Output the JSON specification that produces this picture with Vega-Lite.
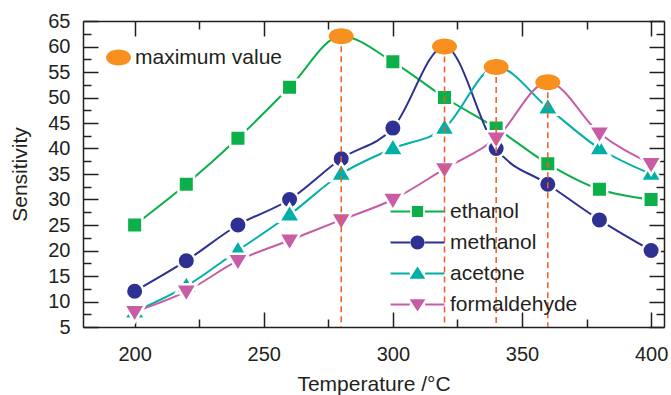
{
  "$schema": "https://vega.github.io/schema/vega-lite/v6.json",
  "width": 581,
  "height": 306,
  "autosize": "none",
  "padding": {"left": 83, "top": 21, "right": 7, "bottom": 68},
  "background": "white",
  "config": {
    "font": "Liberation Sans",
    "view": {"stroke": null},
    "axis": {
      "grid": false,
      "domainColor": "#231f20",
      "domainWidth": 1.5,
      "tickColor": "#231f20",
      "tickWidth": 1.5,
      "labelFontSize": 20,
      "labelColor": "#231f20",
      "titleFontSize": 21,
      "titleFontWeight": "normal",
      "titleColor": "#231f20",
      "labelOverlap": false,
      "labelFlush": false
    },
    "legend": {"labelColor": "#231f20", "labelFont": "Liberation Sans"}
  },
  "datasets": {
    "main": [
      {"T": 200, "v": 25, "series": "ethanol"},
      {"T": 220, "v": 33, "series": "ethanol"},
      {"T": 240, "v": 42, "series": "ethanol"},
      {"T": 260, "v": 52, "series": "ethanol"},
      {"T": 280, "v": 62, "series": "ethanol"},
      {"T": 300, "v": 57, "series": "ethanol"},
      {"T": 320, "v": 50, "series": "ethanol"},
      {"T": 340, "v": 44, "series": "ethanol"},
      {"T": 360, "v": 37, "series": "ethanol"},
      {"T": 380, "v": 32, "series": "ethanol"},
      {"T": 400, "v": 30, "series": "ethanol"},
      {"T": 200, "v": 12, "series": "methanol"},
      {"T": 220, "v": 18, "series": "methanol"},
      {"T": 240, "v": 25, "series": "methanol"},
      {"T": 260, "v": 30, "series": "methanol"},
      {"T": 280, "v": 38, "series": "methanol"},
      {"T": 300, "v": 44, "series": "methanol"},
      {"T": 320, "v": 60, "series": "methanol"},
      {"T": 340, "v": 40, "series": "methanol"},
      {"T": 360, "v": 33, "series": "methanol"},
      {"T": 380, "v": 26, "series": "methanol"},
      {"T": 400, "v": 20, "series": "methanol"},
      {"T": 200, "v": 8, "series": "acetone"},
      {"T": 220, "v": 13, "series": "acetone"},
      {"T": 240, "v": 20, "series": "acetone"},
      {"T": 260, "v": 27, "series": "acetone"},
      {"T": 280, "v": 35, "series": "acetone"},
      {"T": 300, "v": 40, "series": "acetone"},
      {"T": 320, "v": 44, "series": "acetone"},
      {"T": 340, "v": 56, "series": "acetone"},
      {"T": 360, "v": 48, "series": "acetone"},
      {"T": 380, "v": 40, "series": "acetone"},
      {"T": 400, "v": 35, "series": "acetone"},
      {"T": 200, "v": 8, "series": "formaldehyde"},
      {"T": 220, "v": 12, "series": "formaldehyde"},
      {"T": 240, "v": 18, "series": "formaldehyde"},
      {"T": 260, "v": 22, "series": "formaldehyde"},
      {"T": 280, "v": 26, "series": "formaldehyde"},
      {"T": 300, "v": 30, "series": "formaldehyde"},
      {"T": 320, "v": 36, "series": "formaldehyde"},
      {"T": 340, "v": 42, "series": "formaldehyde"},
      {"T": 360, "v": 53, "series": "formaldehyde"},
      {"T": 380, "v": 43, "series": "formaldehyde"},
      {"T": 400, "v": 37, "series": "formaldehyde"}
    ],
    "maxima": [
      {"T": 280, "v": 62, "series": "ethanol", "label": "maximum value"},
      {"T": 320, "v": 60, "series": "methanol", "label": "maximum value"},
      {"T": 340, "v": 56, "series": "acetone", "label": "maximum value"},
      {"T": 360, "v": 53, "series": "formaldehyde", "label": "maximum value"}
    ]
  },
  "layer": [
    {
      "data": {"name": "main"},
      "mark": {"type": "line", "interpolate": "monotone", "strokeWidth": 2},
      "encoding": {
        "x": {
          "field": "T", "type": "quantitative",
          "scale": {"domain": [180, 405], "nice": false, "zero": false},
          "axis": {
            "orient": "bottom",
            "values": [200, 225, 250, 275, 300, 325, 350, 375, 400],
            "labelExpr": "datum.value % 50 === 0 ? datum.label : ''",
            "tickSize": {"condition": {"test": "datum.value % 50 === 0", "value": -15}, "value": -8},
            "labelPadding": 32,
            "title": "Temperature /°C",
            "titleBaseline": "alphabetic",
            "titleY": 63
          }
        },
        "y": {
          "field": "v", "type": "quantitative",
          "scale": {"domain": [5, 65], "nice": false, "zero": false},
          "axis": {
            "orient": "left",
            "values": [5, 7.5, 10, 12.5, 15, 17.5, 20, 22.5, 25, 27.5, 30, 32.5, 35, 37.5, 40, 42.5, 45, 47.5, 50, 52.5, 55, 57.5, 60, 62.5, 65],
            "labelExpr": "datum.value % 5 === 0 ? datum.label : ''",
            "tickSize": {"condition": {"test": "datum.value % 5 === 0", "value": -15}, "value": -8},
            "labelPadding": 28,
            "title": "Sensitivity",
            "titleBaseline": "alphabetic",
            "titleX": -57,
            "titleY": 153
          }
        },
        "color": {
          "field": "series", "type": "nominal",
          "scale": {"domain": ["ethanol", "methanol", "acetone", "formaldehyde"], "range": ["#0cb04a", "#2e3192", "#00b0a6", "#c85da5"]},
          "legend": null
        }
      }
    },
    {
      "data": {"name": "main"},
      "mark": {"type": "point", "filled": true, "opacity": 1, "size": 196, "stroke": "white", "strokeWidth": 2.5, "strokeOpacity": 1},
      "encoding": {
        "x": {
          "field": "T", "type": "quantitative",
          "scale": {"domain": [180, 405], "nice": false, "zero": false},
          "axis": {
            "orient": "top",
            "values": [200, 225, 250, 275, 300, 325, 350, 375, 400],
            "labels": false,
            "tickSize": {"condition": {"test": "datum.value % 50 === 0", "value": -15}, "value": -8},
            "title": null
          }
        },
        "y": {
          "field": "v", "type": "quantitative",
          "scale": {"domain": [5, 65], "nice": false, "zero": false},
          "axis": {
            "orient": "right",
            "values": [5, 7.5, 10, 12.5, 15, 17.5, 20, 22.5, 25, 27.5, 30, 32.5, 35, 37.5, 40, 42.5, 45, 47.5, 50, 52.5, 55, 57.5, 60, 62.5, 65],
            "labels": false,
            "tickSize": {"condition": {"test": "datum.value % 5 === 0", "value": -15}, "value": -8},
            "title": null
          }
        },
        "color": {
          "field": "series", "type": "nominal",
          "scale": {"domain": ["ethanol", "methanol", "acetone", "formaldehyde"], "range": ["#0cb04a", "#2e3192", "#00b0a6", "#c85da5"]},
          "legend": null
        },
        "shape": {
          "field": "series", "type": "nominal",
          "scale": {
            "domain": ["ethanol", "methanol", "acetone", "formaldehyde"],
            "range": [
              "M-1.11,-1.11H1.11V1.11H-1.11Z",
              "M-1.25,0A1.25,1.25 0 1,0 1.25,0A1.25,1.25 0 1,0 -1.25,0Z",
              "M0,-1.54L1.5,0.99H-1.5Z",
              "M0,1.54L1.5,-0.99H-1.5Z"
            ]
          },
          "legend": null
        }
      }
    },
    {
      "data": {"name": "main"},
      "mark": {"type": "point", "filled": true, "opacity": 0, "size": 196},
      "encoding": {
        "x": {"field": "T", "type": "quantitative", "scale": {"domain": [180, 405], "nice": false, "zero": false}, "axis": null},
        "y": {"field": "v", "type": "quantitative", "scale": {"domain": [5, 65], "nice": false, "zero": false}, "axis": null},
        "color": {
          "field": "series", "type": "nominal",
          "scale": {"domain": ["ethanol", "methanol", "acetone", "formaldehyde"], "range": ["#0cb04a", "#2e3192", "#00b0a6", "#c85da5"]},
          "legend": {"orient": "none", "legendX": 324, "legendY": 180, "title": null, "symbolSize": 196, "symbolOpacity": 1, "symbolStrokeWidth": 0, "labelFontSize": 21, "labelOffset": 22, "rowPadding": 9, "padding": 0}
        },
        "shape": {
          "field": "series", "type": "nominal",
          "scale": {
            "domain": ["ethanol", "methanol", "acetone", "formaldehyde"],
            "range": [
              "M-3.85,-0.15H-1.05V0.15H-3.85Z M1.05,-0.15H3.85V0.15H1.05Z M-0.8,-0.8H0.8V0.8H-0.8Z",
              "M-3.85,-0.15H-0.95V0.15H-3.85Z M0.95,-0.15H3.85V0.15H0.95Z M-1,0A1,1 0 1,0 1,0A1,1 0 1,0 -1,0Z",
              "M-3.85,-0.15H-1.1V0.15H-3.85Z M1.1,-0.15H3.85V0.15H1.1Z M0,-1.0L1.12,0.75H-1.12Z",
              "M-3.85,-0.15H-1.1V0.15H-3.85Z M1.1,-0.15H3.85V0.15H1.1Z M0,1.0L1.12,-0.75H-1.12Z"
            ]
          },
          "legend": {"orient": "none", "legendX": 324, "legendY": 180, "title": null, "symbolSize": 196, "symbolOpacity": 1, "symbolStrokeWidth": 0, "labelFontSize": 21, "labelOffset": 22, "rowPadding": 9, "padding": 0}
        }
      }
    },
    {
      "data": {"name": "maxima"},
      "mark": {"type": "rule", "color": "#f15a24", "strokeWidth": 1.5, "strokeDash": [6, 4]},
      "encoding": {
        "x": {"field": "T", "type": "quantitative", "scale": {"domain": [180, 405], "nice": false, "zero": false}, "axis": null},
        "y": {"field": "v", "type": "quantitative", "scale": {"domain": [5, 65], "nice": false, "zero": false}, "axis": null},
        "y2": {"datum": 5}
      }
    },
    {
      "data": {"name": "maxima"},
      "mark": {"type": "point", "filled": true, "opacity": 1, "size": 625, "color": "#f7901e"},
      "encoding": {
        "x": {"field": "T", "type": "quantitative", "scale": {"domain": [180, 405], "nice": false, "zero": false}, "axis": null},
        "y": {"field": "v", "type": "quantitative", "scale": {"domain": [5, 65], "nice": false, "zero": false}, "axis": null},
        "shape": {
          "field": "label", "type": "nominal",
          "scale": {"domain": ["maximum value"], "range": ["M-1,0A1,0.64 0 1,0 1,0A1,0.64 0 1,0 -1,0Z"]},
          "legend": {"orient": "none", "legendX": 23, "legendY": 24, "title": null, "symbolSize": 625, "symbolOpacity": 1, "symbolStrokeWidth": 0, "symbolFillColor": "#f7901e", "labelFontSize": 21, "labelOffset": 4, "padding": 0}
        }
      }
    }
  ],
  "resolve": {
    "scale": {"color": "independent", "shape": "independent"},
    "axis": {"x": "independent", "y": "independent"},
    "legend": {"color": "independent", "shape": "independent"}
  }
}
